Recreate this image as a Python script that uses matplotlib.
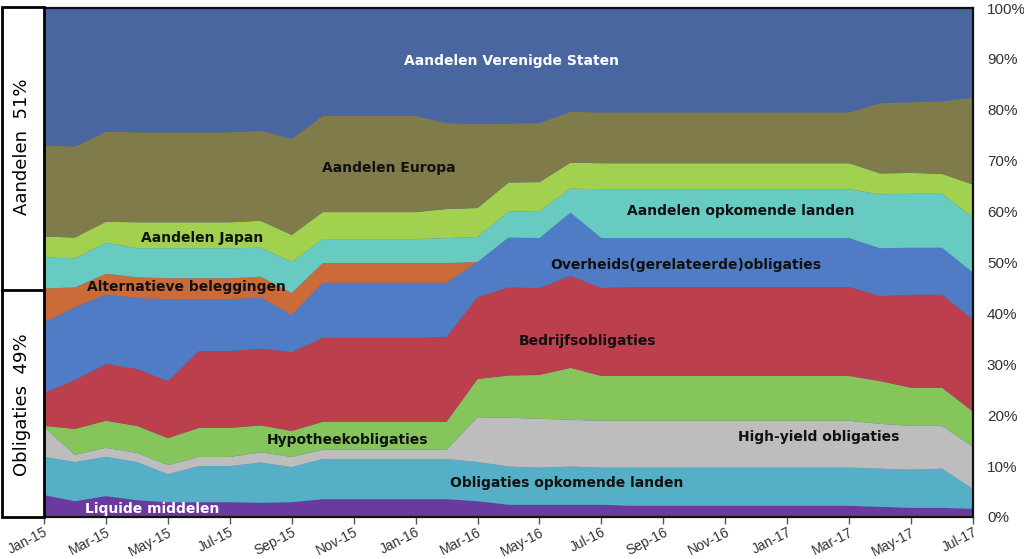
import matplotlib
matplotlib.use("Agg")
import matplotlib.pyplot as plt
from matplotlib.patches import Rectangle
from matplotlib.lines import Line2D

# months Jan-15 .. Jul-17
months = ["Jan-15", "Feb-15", "Mar-15", "Apr-15", "May-15", "Jun-15", "Jul-15", "Aug-15",
          "Sep-15", "Oct-15", "Nov-15", "Dec-15", "Jan-16", "Feb-16", "Mar-16", "Apr-16",
          "May-16", "Jun-16", "Jul-16", "Aug-16", "Sep-16", "Oct-16", "Nov-16", "Dec-16",
          "Jan-17", "Feb-17", "Mar-17", "Apr-17", "May-17", "Jun-17", "Jul-17"]

# weights in %, bottom to top
liquide = [4.3, 3.1, 4.1, 3.3, 2.9, 2.9, 2.9, 2.8, 2.9, 3.5, 3.5, 3.5, 3.5, 3.5, 3.1, 2.4,
           2.4, 2.4, 2.4, 2.2, 2.2, 2.2, 2.2, 2.2, 2.2, 2.2, 2.2, 2.0, 1.8, 1.8, 1.6]
obl_opkomend = [7.5, 7.7, 7.7, 7.5, 5.5, 7.1, 7.1, 7.9, 6.9, 7.9, 7.9, 7.9, 7.9, 7.9, 7.7, 7.5,
                7.3, 7.5, 7.3, 7.5, 7.5, 7.5, 7.5, 7.5, 7.5, 7.5, 7.5, 7.5, 7.5, 7.7, 3.9]
high_yield = [5.9, 1.4, 1.8, 1.8, 1.8, 1.8, 1.8, 2.0, 2.0, 1.8, 1.8, 1.8, 1.8, 1.8, 8.8, 9.6,
              9.6, 9.2, 9.2, 9.2, 9.2, 9.2, 9.2, 9.2, 9.2, 9.2, 9.2, 8.8, 8.6, 8.4, 8.3]
hypotheek = [0.2, 5.1, 5.3, 5.3, 5.3, 5.7, 5.7, 5.3, 5.1, 5.5, 5.5, 5.5, 5.5, 5.5, 7.5, 8.3,
             8.6, 10.2, 8.8, 8.8, 8.8, 8.8, 8.8, 8.8, 8.8, 8.8, 8.8, 8.4, 7.5, 7.5, 6.9]
bedrijfs = [6.5, 9.6, 11.2, 11.2, 11.2, 15.1, 15.1, 15.1, 15.5, 16.5, 16.5, 16.5, 16.5, 16.7, 16.1, 17.3,
            17.1, 18.1, 17.3, 17.5, 17.5, 17.5, 17.5, 17.5, 17.5, 17.5, 17.5, 16.7, 18.3, 18.3, 18.1]
overheids = [13.8, 14.3, 13.6, 13.9, 16.1, 10.2, 10.2, 10.0, 7.3, 10.8, 10.8, 10.8, 10.8, 10.6, 6.9, 9.8,
             9.8, 12.4, 9.8, 9.6, 9.6, 9.6, 9.6, 9.6, 9.6, 9.6, 9.6, 9.4, 9.2, 9.2, 9.2]
alternatief = [6.7, 3.9, 4.1, 4.1, 4.1, 4.1, 4.1, 4.1, 4.3, 3.9, 3.9, 3.9, 3.9, 3.9, 0.0, 0.0,
               0.0, 0.0, 0.0, 0.0, 0.0, 0.0, 0.0, 0.0, 0.0, 0.0, 0.0, 0.0, 0.0, 0.0, 0.0]
aand_opkomend = [6.1, 5.7, 6.1, 5.7, 5.9, 5.9, 5.9, 5.7, 6.1, 4.7, 4.7, 4.7, 4.7, 4.9, 4.9, 5.1,
                 5.3, 4.7, 9.6, 9.6, 9.6, 9.6, 9.6, 9.6, 9.6, 9.6, 9.6, 10.6, 10.6, 10.6, 10.8]
japan = [4.1, 4.1, 4.1, 5.1, 5.1, 5.1, 5.1, 5.3, 5.3, 5.3, 5.3, 5.3, 5.3, 5.7, 5.7, 5.7,
         5.7, 5.1, 5.1, 5.1, 5.1, 5.1, 5.1, 5.1, 5.1, 5.1, 5.1, 4.1, 4.1, 3.9, 6.5]
europa = [17.9, 17.9, 17.7, 17.7, 17.7, 17.7, 17.7, 17.7, 18.9, 18.9, 18.9, 18.9, 18.9, 16.9, 16.5, 11.6,
          11.6, 10.0, 10.0, 10.0, 10.0, 10.0, 10.0, 10.0, 10.0, 10.0, 10.0, 13.8, 13.9, 14.3, 17.1]
verenigde_staten = [26.9, 26.9, 24.2, 24.2, 24.2, 24.2, 24.2, 24.0, 25.5, 21.0, 21.0, 21.0, 21.0, 22.4, 22.6, 22.6,
                    22.4, 20.2, 20.2, 20.2, 20.2, 20.2, 20.2, 20.2, 20.2, 20.2, 20.2, 18.5, 18.3, 18.1, 17.5]

colors = ["#6B3A9E", "#55AFC6", "#BDBDBD", "#86C45C", "#BC3F4E", "#4F7CC4",
          "#CB6B3A", "#67CBC1", "#A2D04F", "#807B4B", "#4A66A0"]

fig = plt.figure(figsize=(10.24, 5.59), dpi=100)
W, H = 1024.0, 559.0
ax = fig.add_axes([44 / W, 1 - 517 / H, (973 - 44) / W, (517 - 8) / H])

x = list(range(len(months)))
ax.stackplot(x, liquide, obl_opkomend, high_yield, hypotheek, bedrijfs, overheids,
             alternatief, aand_opkomend, japan, europa, verenigde_staten,
             colors=colors, linewidth=0)
ax.set_xlim(0, len(months) - 1)
ax.set_ylim(0, 100)
ax.set_facecolor(colors[-1])

ax.set_xticks(x[::2])
ax.set_xticklabels(months[::2], rotation=27, ha="right", rotation_mode="anchor",
                   fontsize=10, color="#333333", family="Liberation Sans")
ax.tick_params(axis="x", length=5, width=1, color="#555555", pad=1)

ax.yaxis.tick_right()
ax.set_yticks(range(0, 101, 10))
ax.set_yticklabels(["%d%%" % v for v in range(0, 101, 10)], fontsize=11,
                   color="#333333", family="Liberation Sans")
ax.tick_params(axis="y", length=0, pad=10)

for s in ["top", "right", "bottom"]:
    ax.spines[s].set_color("#111111")
    ax.spines[s].set_linewidth(1.6)
ax.spines["left"].set_visible(False)

# labels inside the areas
def lab(px, py, txt, col="#111111"):
    fig.text(px / W, 1 - py / H, txt, ha="center", va="center", fontsize=10,
             fontweight="bold", color=col)

lab(511, 61, "Aandelen Verenigde Staten", "white")
lab(389, 168, "Aandelen Europa")
lab(202, 238, "Aandelen Japan")
lab(741, 211, "Aandelen opkomende landen")
lab(186, 287, "Alternatieve beleggingen")
lab(686, 265, "Overheids(gerelateerde)obligaties")
lab(588, 341, "Bedrijfsobligaties")
lab(348, 440, "Hypotheekobligaties")
lab(819, 437, "High-yield obligaties")
lab(567, 483, "Obligaties opkomende landen")
lab(152, 509, "Liquide middelen", "white")

# left box with the split
box = Rectangle((2 / W, 1 - 517 / H), 42 / W, 510 / H, transform=fig.transFigure,
                fill=False, edgecolor="black", linewidth=2)
fig.patches.append(box)
fig.lines.append(Line2D([2 / W, 44 / W], [1 - 290 / H, 1 - 290 / H],
                        transform=fig.transFigure, color="black", linewidth=2))
fig.text(22 / W, 1 - 147 / H, "Aandelen  51%", rotation=90, ha="center", va="center",
         fontsize=13, color="black")
fig.text(22 / W, 1 - 405 / H, "Obligaties  49%", rotation=90, ha="center", va="center",
         fontsize=13, color="black")

fig.savefig("out.png", dpi=100)
